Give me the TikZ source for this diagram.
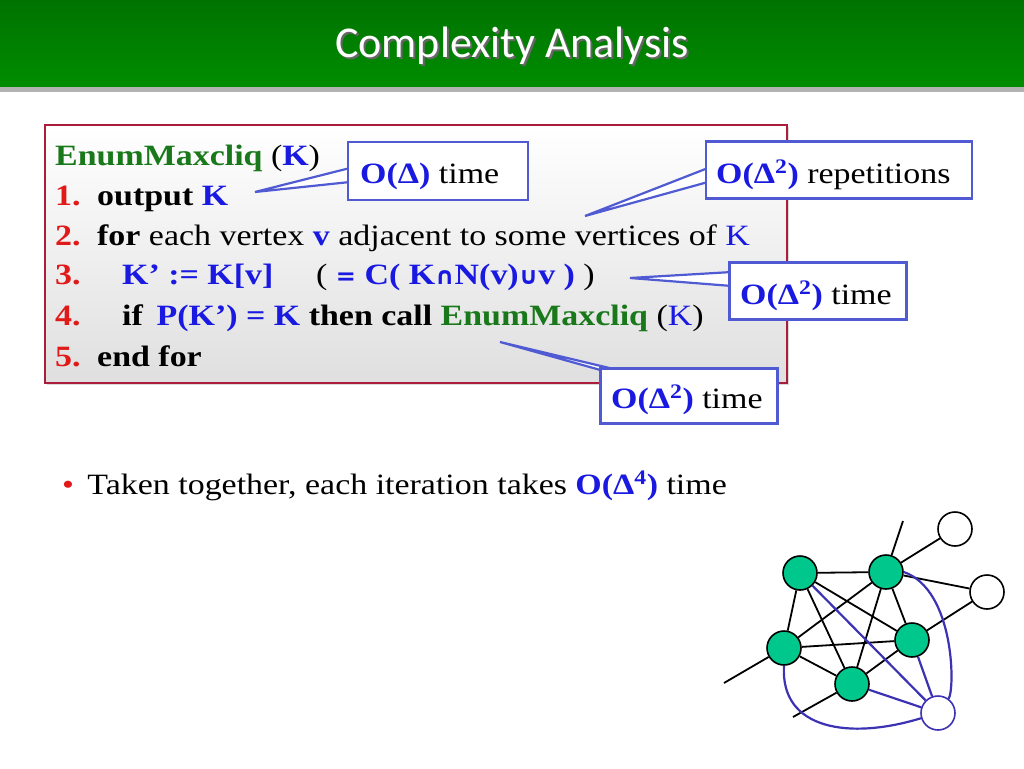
\documentclass[tikz,border=0pt]{standalone}
\usepackage{fontspec}
\setmainfont{Liberation Serif}[FakeStretch=1.15]
\newfontfamily\titlefont{Carlito}
\newfontfamily\symfont{DejaVu Sans}
\usetikzlibrary{shadows}
\definecolor{codegreen}{RGB}{25,120,25}
\definecolor{codeblue}{RGB}{25,25,225}
\definecolor{codered}{RGB}{225,25,25}
\definecolor{boxred}{RGB}{170,30,60}
\definecolor{calloutblue}{RGB}{80,90,210}
\definecolor{nodegreen}{RGB}{0,200,140}
\definecolor{edgeblue}{RGB}{60,50,180}
\tikzset{
  codeline/.style={anchor=base west, inner sep=0pt, font=\fontsize{29.5}{31}\selectfont},
  callout/.style={draw=calloutblue, line width=2.2pt, fill=white},
  vtx/.style={circle, draw, line width=1.6pt, minimum size=34pt, inner sep=0pt},
  clique/.style={vtx, fill=nodegreen},
  outer/.style={vtx, fill=white},
  gedge/.style={line width=1.8pt},
  bedge/.style={line width=2.2pt, draw=edgeblue}
}
\newcommand{\bl}[1]{\textcolor{codeblue}{\textbf{#1}}}
\newcommand{\gr}[1]{\textcolor{codegreen}{\textbf{#1}}}
\newcommand{\nm}[1]{\textcolor{codered}{\textbf{#1}}}
\begin{document}
\begin{tikzpicture}[x=1pt,y=-1pt]
    \useasboundingbox (0,0) rectangle (1024,768);
    % Title bar
    \fill[gray!60] (0,86) rectangle (1024,92);
    \shade[top color=green!45!black, bottom color=green!55!black] (0,0) rectangle (1024,86);
    \node[text=black!60, font=\titlefont\fontsize{44}{48}\selectfont] at (514,48) {Complexity Analysis};
    \node[text=white, font=\titlefont\fontsize{44}{48}\selectfont] (title) at (512,46) {Complexity Analysis};

    % Code box
    \shade[top color=white, bottom color=gray!25, drop shadow={opacity=0.3}] (45,125) rectangle (787,383);
    \draw[boxred, line width=1.5pt] (45,125) rectangle (787,383);
    \node[codeline] (l0) at (55,165) {\gr{EnumMaxcliq} (\bl{K})};
    \node[codeline] (n1) at (55,205) {\nm{1.}};
    \node[codeline] (l1) at (97,205) {\textbf{output} \bl{K}};
    \node[codeline] (n2) at (55,245) {\nm{2.}};
    \node[codeline] (l2) at (97,245) {\textbf{for} each vertex \bl{v} adjacent to some vertices of \textcolor{codeblue}{K}};
    \node[codeline] (n3) at (55,284) {\nm{3.}};
    \node[codeline] (l3) at (122,284) {\bl{K’ := K[v]}};
    \node[codeline] (l3b) at (316,284) {( \bl{{\symfont\fontsize{24}{26}\selectfont =} C( K{\symfont\fontsize{24}{26}\selectfont ∩}N(v){\symfont\fontsize{24}{26}\selectfont ∪}v )} )};
    \node[codeline] (n4) at (55,325) {\nm{4.}};
    \node[codeline] (l4) at (122,325) {\textbf{if}\, \bl{P(K’) = K} \textbf{then call} \gr{EnumMaxcliq} (\textcolor{codeblue}{K})};
    \node[codeline] (n5) at (55,366) {\nm{5.}};
    \node[codeline] (l5) at (97,366) {\textbf{end for}};

    % Callouts
    \coordinate (p1) at (255,192);
    \coordinate (p2) at (585,216);
    \coordinate (p3) at (630,278);
    \coordinate (p4) at (500,342);
    \filldraw[callout] (350,168) -- (p1) -- (350,182) -- cycle;
    \filldraw[callout] (708,168) -- (p2) -- (708,182) -- cycle;
    \filldraw[callout] (732,272) -- (p3) -- (732,286) -- cycle;
    \filldraw[callout] (604,371) -- (p4) -- (622,371) -- cycle;
    \node[callout, minimum width=180pt, minimum height=58pt] (c1) at (438,171) {};
    \node[callout, minimum width=266pt, minimum height=57pt] (c2) at (839,170) {};
    \node[callout, minimum width=177pt, minimum height=57pt] (c3) at (818,291) {};
    \node[callout, minimum width=177pt, minimum height=55pt] (c4) at (689,396) {};
    \node[codeline] at (360,183) {\bl{O(Δ)} time};
    \node[codeline] at (716,183) {\bl{O(Δ\textsuperscript{2})} repetitions};
    \node[codeline] at (740,304) {\bl{O(Δ\textsuperscript{2})} time};
    \node[codeline] at (611,408) {\bl{O(Δ\textsuperscript{2})} time};

    % Summary
    \node[codeline] (sum) at (62,494) {\textcolor{codered}{\textbullet}\, Taken together, each iteration takes \bl{O(Δ\textsuperscript{4})} time};

    % Graph
    \node[clique] (A) at (800,573) {};
    \node[clique] (B) at (886,572) {};
    \node[clique] (C) at (784,648) {};
    \node[clique] (D) at (912,640) {};
    \node[clique] (E) at (852,684) {};
    \node[outer] (W1) at (955,529) {};
    \node[outer] (W2) at (987,592) {};
    \node[outer, draw=edgeblue] (W3) at (938,713) {};
    \coordinate (tB) at (903,521);
    \coordinate (tC) at (724,683);
    \coordinate (tE) at (793,717);
    \foreach \a/\b in {A/B,A/C,A/E,A/D,B/C,B/E,B/D,B/W1,B/W2,B/tB,C/D,C/E,C/tC,D/E,D/W2,E/tE}
        \draw[gedge] (\a) -- (\b);
    \draw[bedge] (A) -- (W3);
    \draw[bedge] (D) -- (W3);
    \draw[bedge] (E) -- (W3);
    \draw[bedge] (B.east) .. controls (955,590) and (955,690) .. (W3);
    \draw[bedge] (C.south) .. controls (780,730) and (850,740) .. (W3);
\end{tikzpicture}
\end{document}
